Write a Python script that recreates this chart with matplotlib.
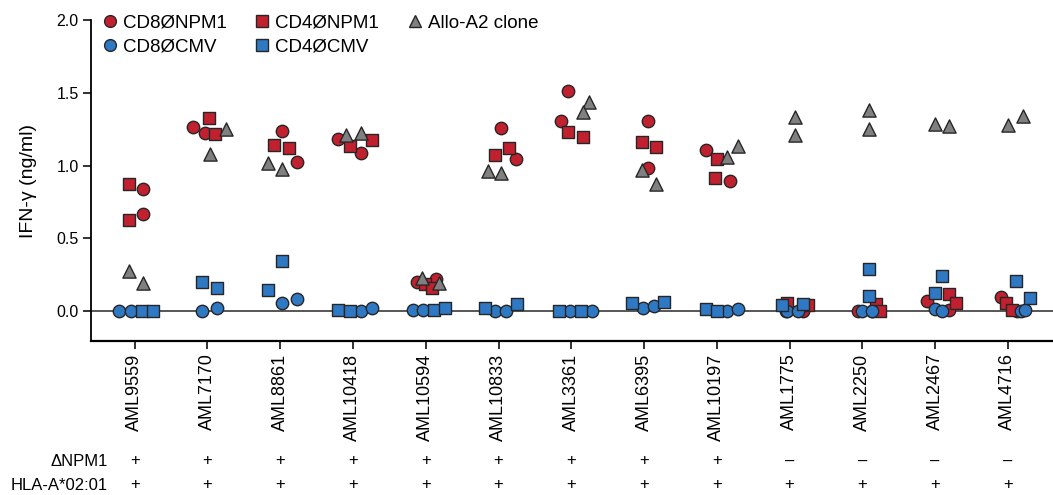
import matplotlib
matplotlib.use("Agg")
import matplotlib.pyplot as plt
import matplotlib.transforms as mtransforms
from matplotlib.lines import Line2D
import numpy as np

plt.rcParams['font.family'] = ['Liberation Sans', 'DejaVu Sans']

# Patients (x categories)
PATIENTS = ["AML9559", "AML7170", "AML8861", "AML10418", "AML10594", "AML10833",
            "AML3361", "AML6395", "AML10197", "AML1775", "AML2250", "AML2467", "AML4716"]
NPM1_STATUS = ["+"] * 9 + ["\u2013"] * 4
HLA_STATUS = ["+"] * 13

# IFN-gamma (ng/ml), two replicates per patient
CD8_NPM1 = [[0.84, 0.67], [1.265, 1.223], [1.237, 1.024], [1.18, 1.085], [0.20, 0.22],
            [1.255, 1.045], [1.514, 1.308], [1.308, 0.98], [1.107, 0.891], [0.0, 0.0],
            [0.0, 0.0], [0.071, 0.007], [0.094, 0.0]]
CD4_NPM1 = [[0.873, 0.625], [1.326, 1.216], [1.14, 1.12], [1.134, 1.175], [0.185, 0.16],
            [1.07, 1.118], [1.23, 1.194], [1.164, 1.125], [1.047, 0.914], [0.053, 0.041],
            [0.05, 0.0], [0.117, 0.053], [0.053, 0.007]]
ALLO_A2 = [[0.275, 0.19], [1.25, 1.08], [1.02, 0.976], [1.21, 1.22], [0.225, 0.195],
           [0.962, 0.946], [1.434, 1.366], [0.969, 0.873], [1.134, 1.06], [1.336, 1.21],
           [1.38, 1.249], [1.283, 1.274], [1.276, 1.342]]
CD8_CMV = [[0.0, 0.0], [0.0, 0.02], [0.055, 0.08], [0.0, 0.02], [0.01, 0.005],
           [0.0, 0.0], [0.0, 0.0], [0.018, 0.034], [0.002, 0.014], [0.0, 0.0],
           [0.0, 0.0], [0.014, 0.0], [0.0, 0.01]]
CD4_CMV = [[0.0, 0.0], [0.2, 0.158], [0.144, 0.343], [0.01, 0.0], [0.01, 0.02],
           [0.018, 0.046], [0.0, 0.0], [0.053, 0.064], [0.014, 0.0], [0.041, 0.046],
           [0.291, 0.103], [0.243, 0.122], [0.208, 0.087]]

# horizontal jitter of each point within its patient column (category units)
J_CD8_NPM1 = [[0.12, 0.12], [-0.20, -0.04], [0.02, 0.23], [-0.20, 0.11], [-0.12, 0.14],
              [0.04, 0.24], [-0.05, -0.14], [0.05, 0.05], [-0.15, 0.18], [-0.05, 0.19],
              [-0.06, 0.13], [-0.11, 0.19], [-0.10, 0.12]]
J_CD4_NPM1 = [[-0.08, -0.08], [0.02, 0.10], [-0.08, 0.12], [-0.04, 0.26], [-0.01, 0.08],
              [-0.05, 0.14], [-0.05, 0.16], [-0.03, 0.16], [0.0, -0.03], [-0.04, 0.26],
              [0.19, 0.24], [0.19, 0.29], [-0.03, 0.05]]
J_ALLO_A2 = [[-0.08, 0.11], [0.25, 0.03], [-0.17, 0.02], [-0.10, 0.11], [-0.05, 0.18],
             [-0.15, 0.04], [0.25, 0.16], [-0.03, 0.16], [0.29, 0.14], [0.08, 0.08],
             [0.09, 0.09], [0.0, 0.19], [0.0, 0.21]]
J_CD8_CMV = [[-0.22, -0.05], [-0.08, 0.13], [0.02, 0.23], [0.11, 0.26], [-0.18, -0.04],
             [-0.05, 0.10], [-0.02, 0.28], [-0.02, 0.13], [0.14, 0.29], [-0.04, 0.11],
             [0.0, 0.13], [0.0, 0.09], [0.18, 0.23]]
J_CD4_CMV = [[0.10, 0.25], [-0.08, 0.13], [-0.17, 0.02], [-0.20, -0.04], [0.11, 0.27],
             [-0.18, 0.26], [-0.17, 0.13], [-0.17, 0.28], [-0.15, 0.0], [-0.11, 0.18],
             [0.09, 0.09], [0.09, 0.0], [0.11, 0.30]]

RED = '#C1202F'
BLUE = '#2F78C4'
GREY = '#808080'
EDGE = '#262626'

SERIES = [
    ("CD8\u00d8NPM1", CD8_NPM1, J_CD8_NPM1, 'o', RED),
    ("CD4\u00d8NPM1", CD4_NPM1, J_CD4_NPM1, 's', RED),
    ("Allo-A2 clone", ALLO_A2, J_ALLO_A2, '^', GREY),
    ("CD8\u00d8CMV", CD8_CMV, J_CD8_CMV, 'o', BLUE),
    ("CD4\u00d8CMV", CD4_CMV, J_CD4_CMV, 's', BLUE),
]

fig = plt.figure(figsize=(10.53, 4.95), dpi=100)
ax = fig.add_axes([91 / 1053, 1 - 341 / 495, 1 - 91 / 1053, (341 - 20) / 495])

x = np.arange(len(PATIENTS))
ax.axhline(0, color='#3a3a3a', lw=1.2, zorder=1)

for name, vals, jit, mk, col in SERIES:
    v = np.array(vals)
    j = np.array(jit)
    xs = (x[:, None] + j).ravel()
    ys = v.ravel()
    ax.scatter(xs, ys, marker=mk, s=80 if mk != '^' else 90, c=col,
               edgecolors=EDGE, linewidths=1.0, zorder=3)

ax.set_xlim(-0.6, 12.62)
ax.set_ylim(-0.206, 2.0)
ax.set_yticks([0.0, 0.5, 1.0, 1.5, 2.0])
ax.set_yticklabels([f"{t:.1f}" for t in [0.0, 0.5, 1.0, 1.5, 2.0]], fontsize=11.5)
ax.set_xticks(x)
ax.set_xticklabels(PATIENTS, rotation=90, fontsize=13)
ax.tick_params(axis='both', direction='out', length=6, width=1.3, color='#222222', pad=3)
ax.set_ylabel("IFN-\u03b3 (ng/ml)", fontsize=14, labelpad=14)

for side in ['top', 'right']:
    ax.spines[side].set_visible(False)
ax.spines['left'].set_linewidth(1.3)
ax.spines['bottom'].set_linewidth(1.6)
ax.spines['left'].set_bounds(-0.206, 2.0)

# legend
handles = []
order = [0, 3, 1, 4, 2]
for k in order:
    name, _, _, mk, col = SERIES[k]
    handles.append(Line2D([], [], marker=mk, ls='none', markersize=8.5,
                          markerfacecolor=col, markeredgecolor=EDGE,
                          markeredgewidth=1.0, label=name))
ax.legend(handles=handles, ncol=3, loc='upper left', bbox_to_anchor=(0.0, 1.04),
          frameon=False, fontsize=13.5, handletextpad=0.1, columnspacing=1.3,
          labelspacing=0.35, handlelength=1.2, borderaxespad=0)

# status rows below the axis
trans = mtransforms.blended_transform_factory(ax.transData, fig.transFigure)
row_y = [1 - 461 / 495, 1 - 485 / 495]
fig.text(108 / 1053, row_y[0], "\u0394NPM1", ha='right', va='center', fontsize=12)
fig.text(108 / 1053, row_y[1], "HLA-A*02:01", ha='right', va='center', fontsize=12)
for i in range(len(PATIENTS)):
    ax.text(x[i], row_y[0], NPM1_STATUS[i], transform=trans, ha='center', va='center', fontsize=12)
    ax.text(x[i], row_y[1], HLA_STATUS[i], transform=trans, ha='center', va='center', fontsize=12)

fig.savefig("out.png", dpi=100, facecolor='white')
